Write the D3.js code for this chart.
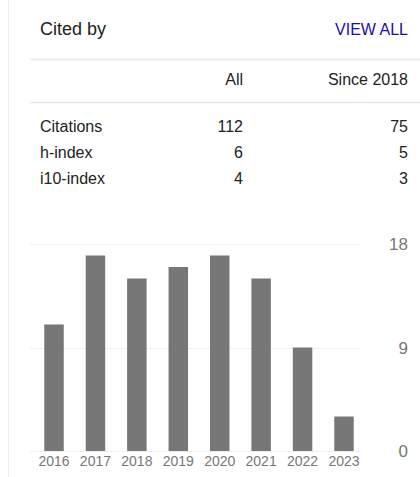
<!DOCTYPE html>
<html>
<head>
<meta charset="utf-8">
<script src="https://cdn.jsdelivr.net/npm/d3@7"></script>
<style>
  body { margin: 0; background: #fff; }
  svg { display: block; font-family: "Liberation Sans", Arial, sans-serif; }
</style>
</head>
<body>
<svg id="chart"></svg>
<script>
// citation counts per year
const years = ["2016", "2017", "2018", "2019", "2020", "2021", "2022", "2023"];
const citations = [11, 17, 15, 16, 17, 15, 9, 3];
const yTicks = [0, 9, 18];

// summary table
const columns = ["All", "Since 2018"];
const rowLabels = ["Citations", "h-index", "i10-index"];
const allValues = [112, 6, 4];
const sinceValues = [75, 5, 3];

const width = 420, height = 477;

const svg = d3.select("#chart")
    .attr("width", width)
    .attr("height", height);

// left border of the box
svg.append("line")
    .attr("x1", 8.5).attr("x2", 8.5)
    .attr("y1", 0).attr("y2", height)
    .attr("stroke", "#eee");

// header
svg.append("text")
    .attr("x", 40).attr("y", 34.5)
    .attr("font-size", 18)
    .attr("fill", "#222")
    .text("Cited by");

svg.append("text")
    .attr("x", 408).attr("y", 35)
    .attr("text-anchor", "end")
    .attr("font-size", 16)
    .attr("fill", "#1a0dab")
    .text("VIEW ALL");

// separators
[59, 102].forEach(y => {
    svg.append("line")
        .attr("x1", 30).attr("x2", width)
        .attr("y1", y + 0.5).attr("y2", y + 0.5)
        .attr("stroke", "#e8e8e8")
        .attr("stroke-width", 1.5);
});

const colX = [243, 408];

svg.selectAll(".col-head")
    .data(columns)
    .join("text")
    .attr("class", "col-head")
    .attr("x", (d, i) => colX[i])
    .attr("y", 85)
    .attr("text-anchor", "end")
    .attr("font-size", 16)
    .attr("fill", "#222")
    .text(d => d);

const rowY = d3.scalePoint().domain(rowLabels).range([132, 184]);

const rows = svg.selectAll(".row")
    .data(rowLabels)
    .join("g")
    .attr("class", "row")
    .attr("transform", d => `translate(0,${rowY(d)})`);

rows.append("text")
    .attr("x", 40)
    .attr("font-size", 16)
    .attr("fill", "#222")
    .text(d => d);

rows.append("text")
    .attr("x", colX[0])
    .attr("text-anchor", "end")
    .attr("font-size", 16)
    .attr("fill", "#222")
    .text((d, i) => allValues[i]);

rows.append("text")
    .attr("x", colX[1])
    .attr("text-anchor", "end")
    .attr("font-size", 16)
    .attr("fill", "#222")
    .text((d, i) => sinceValues[i]);

// bar chart
const x = d3.scaleBand()
    .domain(years)
    .range([33.3, 364.7])
    .paddingInner(0.53)
    .paddingOuter(0.265);

const y = d3.scaleLinear()
    .domain([0, 18])
    .range([451, 244]);

svg.selectAll(".grid")
    .data(yTicks)
    .join("line")
    .attr("class", "grid")
    .attr("x1", 30).attr("x2", 361)
    .attr("y1", d => Math.round(y(d)) + 0.5)
    .attr("y2", d => Math.round(y(d)) + 0.5)
    .attr("stroke", "#eee");

svg.selectAll(".ylab")
    .data(yTicks)
    .join("text")
    .attr("class", "ylab")
    .attr("x", 408)
    .attr("y", d => y(d))
    .attr("dy", "0.36em")
    .attr("text-anchor", "end")
    .attr("font-size", 17)
    .attr("fill", "#777")
    .text(d => d);

svg.selectAll(".bar")
    .data(citations)
    .join("rect")
    .attr("class", "bar")
    .attr("x", (d, i) => x(years[i]))
    .attr("y", d => y(d))
    .attr("width", x.bandwidth())
    .attr("height", d => y(0) - y(d))
    .attr("fill", "#777");

svg.selectAll(".xlab")
    .data(years)
    .join("text")
    .attr("class", "xlab")
    .attr("x", d => x(d) + x.bandwidth() / 2)
    .attr("y", 461)
    .attr("dy", "0.36em")
    .attr("text-anchor", "middle")
    .attr("font-size", 14)
    .attr("fill", "#777")
    .text(d => d);
</script>
</body>
</html>
